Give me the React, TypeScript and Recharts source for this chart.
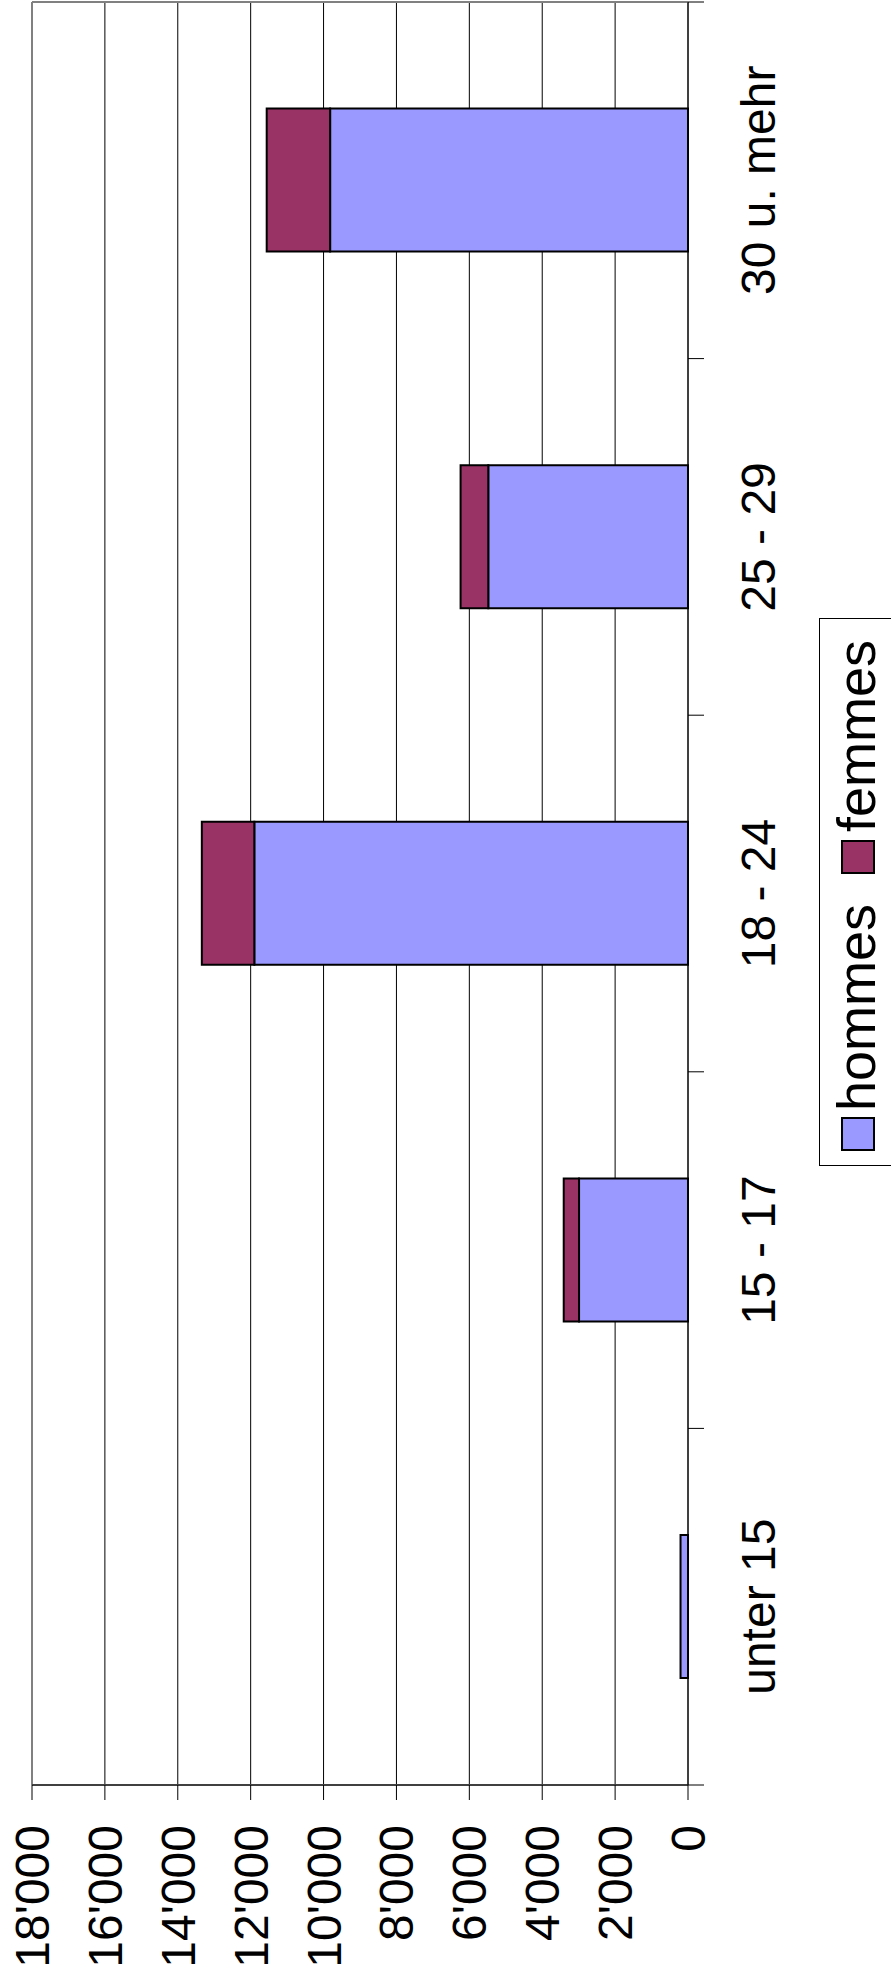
import React from "react";
import {
  BarChart,
  Bar,
  XAxis,
  YAxis,
  CartesianGrid,
  ReferenceLine,
} from "recharts";

// age groups and counts (men / women)
const categories = ["unter 15", "15 - 17", "18 - 24", "25 - 29", "30 u. mehr"];
const hommes = [205, 2990, 11900, 5480, 9820];
const femmes = [0, 420, 1440, 760, 1740];
const valueTicks = [0, 2000, 4000, 6000, 8000, 10000, 12000, 14000, 16000, 18000];

const legendItems = [
  { name: "hommes", color: "#9999FF" },
  { name: "femmes", color: "#993366" },
];

const chartData = categories.map((cat, i) => ({
  cat,
  hommes: hommes[i],
  femmes: femmes[i],
}));

const FONT = "'Liberation Sans', Arial, sans-serif";
const W = 1979;
const H = 891;
const TICK_MARGIN = 53;

const fmt = (v: number) => String(v).replace(/\B(?=(\d{3})+(?!\d))/g, "'");

// category label plus the tick marks on the category borders (Excel style)
function CategoryTick(props: any) {
  const { x, y, payload, index, visibleTicksCount, width } = props;
  const half =
    payload && typeof payload.offset === "number" && payload.offset > 0
      ? payload.offset
      : width / visibleTicksCount / 2;
  const axisY = y - TICK_MARGIN;
  const isLast = index === visibleTicksCount - 1;
  return (
    <g>
      <line x1={x - half} x2={x - half} y1={axisY} y2={axisY + 16} stroke="#000" />
      {isLast && (
        <line x1={x + half} x2={x + half} y1={axisY} y2={axisY + 16} stroke="#000" />
      )}
      <text
        x={x}
        y={y}
        dy="0.71em"
        textAnchor="middle"
        fontSize={48}
        fontFamily={FONT}
        fill="#000"
      >
        {payload.value}
      </text>
    </g>
  );
}

function ChartLegend() {
  const F = 54;
  return (
    <div
      style={{
        position: "absolute",
        left: 813,
        top: 819,
        width: 546,
        height: 120,
        border: "1px solid #000",
        background: "#fff",
        fontFamily: FONT,
        fontSize: F,
        color: "#000",
      }}
    >
      {legendItems.map((it, i) => (
        <React.Fragment key={it.name}>
          <div
            style={{
              position: "absolute",
              left: i === 0 ? 14 : 291,
              top: 21,
              width: 34,
              height: 34,
              boxSizing: "border-box",
              border: "2px solid #000",
              background: it.color,
            }}
          />
          <div
            style={{
              position: "absolute",
              left: i === 0 ? 54 : 333,
              top: 55 - 0.8465 * F,
              lineHeight: 1,
              whiteSpace: "nowrap",
            }}
          >
            {it.name}
          </div>
        </React.Fragment>
      ))}
    </div>
  );
}

export default function App() {
  return (
    <div
      style={{
        position: "absolute",
        left: 0,
        top: 0,
        width: H,
        height: W,
        overflow: "hidden",
        background: "#fff",
      }}
    >
      <div
        style={{
          position: "absolute",
          left: 0,
          top: 0,
          width: W,
          height: H,
          transformOrigin: "0 0",
          transform: `translate(0px, ${W}px) rotate(-90deg)`,
        }}
      >
        <BarChart
          width={W}
          height={H}
          data={chartData}
          margin={{ top: 32, right: 2, left: 0, bottom: 202 }}
          barCategoryGap="30%"
          style={{ fontFamily: FONT }}
        >
          <CartesianGrid vertical={false} stroke="#000" strokeWidth={1} />
          {/* gray frame of the plot area, left and right sides */}
          <CartesianGrid
            horizontal={false}
            stroke="#808080"
            strokeWidth={2}
            verticalCoordinatesGenerator={({ offset }: any) => [
              offset.left,
              offset.left + offset.width,
            ]}
          />
          <XAxis
            dataKey="cat"
            height={1}
            interval={0}
            tickLine={false}
            tickSize={0}
            tickMargin={TICK_MARGIN}
            axisLine={{ stroke: "#000", strokeWidth: 1 }}
            tick={<CategoryTick />}
          />
          <YAxis
            domain={[0, 18000]}
            ticks={valueTicks}
            interval={0}
            width={194}
            tickSize={15}
            tickMargin={25}
            tickFormatter={fmt}
            axisLine={{ stroke: "#000", strokeWidth: 1 }}
            tickLine={{ stroke: "#000", strokeWidth: 1 }}
            tick={{ fontSize: 48, fill: "#000", fontFamily: FONT }}
          />
          <ReferenceLine y={18000} stroke="#808080" strokeWidth={2} />
          <Bar
            dataKey="hommes"
            stackId="a"
            fill="#9999FF"
            stroke="#000"
            strokeWidth={2}
            isAnimationActive={false}
          />
          <Bar
            dataKey="femmes"
            stackId="a"
            fill="#993366"
            stroke="#000"
            strokeWidth={2}
            isAnimationActive={false}
          />
        </BarChart>
        <ChartLegend />
      </div>
    </div>
  );
}
